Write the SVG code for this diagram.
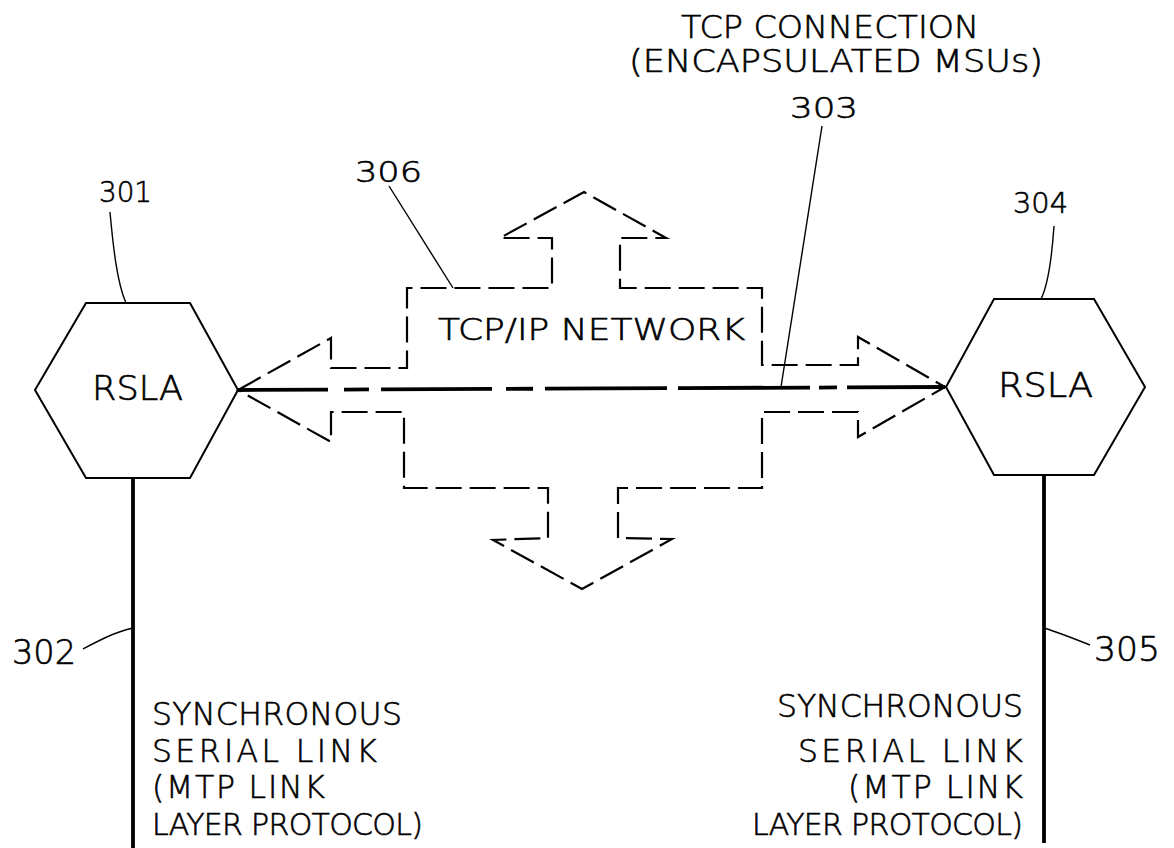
<svg xmlns="http://www.w3.org/2000/svg" width="1174" height="848" viewBox="0 0 1174 848">
<style>
.t{font-family:"DejaVu Sans","Liberation Sans",Arial,sans-serif;font-weight:200;fill:#000;stroke:#000;stroke-width:0.6;}
.big{font-size:31.5px;}
.num{font-size:28px;}
.hex{fill:none;stroke:#000;stroke-width:2;stroke-linejoin:miter;}
.net{fill:none;stroke:#000;stroke-width:2.2;stroke-dasharray:26 8;}
.lead{fill:none;stroke:#000;stroke-width:1.4;}
.link{fill:none;stroke:#000;stroke-width:3.8;}
</style>
<rect width="1174" height="848" fill="#fff"/>
<g id="network-306">
<path class="net" d="M238,390 L331,338 L331,368 L407,368 L407,288 L552,288 L552,238 L500,238 L584,192 L666,238 L620,238 L620,288 L762,288 L762,365 L858,365 L858,337 L945,387 L858,437 L858,412 L762,412 L762,488 L618,488 L618,538 L672,539 L582,589 L493,540 L548,538 L548,488 L404,488 L404,412 L331,412 L331,442 Z"/>
<text class="t" x="438" y="340" font-size="30.5" textLength="307" lengthAdjust="spacingAndGlyphs">TCP/IP NETWORK</text>
</g>
<g id="rsla-301">
<polygon class="hex" points="86,303 190,303 238,390 190,478 86,478 35,390"/>
<text class="t" x="92" y="400" font-size="33" textLength="91" lengthAdjust="spacingAndGlyphs">RSLA</text>
</g>
<g id="rsla-304">
<polygon class="hex" points="994,299 1094,299 1145,387 1094,475 994,475 946,387"/>
<text class="t" x="998" y="397" font-size="33" textLength="95" lengthAdjust="spacingAndGlyphs">RSLA</text>
</g>
<g id="connectors">
<path class="link" d="M238,390 L945,387" stroke-dasharray="90 16 25 12 111 14 27 12 122 11 132 9 18 10 98"/>
<line class="link" x1="133" y1="478" x2="133" y2="848"/>
<line class="link" x1="1044" y1="475" x2="1044" y2="843"/>
<path class="lead" d="M110,212 C113,245 117,283 126,303"/>
<path class="lead" d="M1054,226 C1052,255 1049,283 1041,299"/>
<path class="lead" d="M389,186 L453,288"/>
<path class="lead" d="M822,126 L781,387"/>
<path class="lead" d="M83,649 C100,640 115,632 133,628"/>
<path class="lead" d="M1044,628 C1060,633 1075,639 1090,645"/>
</g>
<g id="labels">
<text class="t big" x="681" y="38" textLength="298" lengthAdjust="spacingAndGlyphs">TCP CONNECTION</text>
<text class="t big" x="629" y="72" textLength="414" lengthAdjust="spacingAndGlyphs">(ENCAPSULATED MSUs)</text>
<text class="t num" x="790" y="118" textLength="68" lengthAdjust="spacingAndGlyphs">303</text>
<text class="t num" x="355" y="182" textLength="67" lengthAdjust="spacingAndGlyphs">306</text>
<text class="t num" x="99" y="202" textLength="53" lengthAdjust="spacingAndGlyphs">301</text>
<text class="t num" x="1013" y="213" textLength="55" lengthAdjust="spacingAndGlyphs">304</text>
<text class="t" x="12" y="664" font-size="33" textLength="64" lengthAdjust="spacingAndGlyphs">302</text>
<text class="t" x="1094" y="661" font-size="33" textLength="66" lengthAdjust="spacingAndGlyphs">305</text>
<text class="t big" x="152" y="725" textLength="250">SYNCHRONOUS</text>
<text class="t big" x="152" y="762" textLength="225">SERIAL  LINK</text>
<text class="t big" x="152" y="798" textLength="173">(MTP LINK</text>
<text class="t" x="152" y="835" font-size="30" textLength="271">LAYER PROTOCOL)</text>
<text class="t big" x="777" y="717" textLength="246">SYNCHRONOUS</text>
<text class="t big" x="798" y="762" textLength="225">SERIAL LINK</text>
<text class="t big" x="848" y="798" textLength="175">(MTP LINK</text>
<text class="t" x="752" y="835" font-size="30" textLength="271">LAYER PROTOCOL)</text>
</g>
</svg>
